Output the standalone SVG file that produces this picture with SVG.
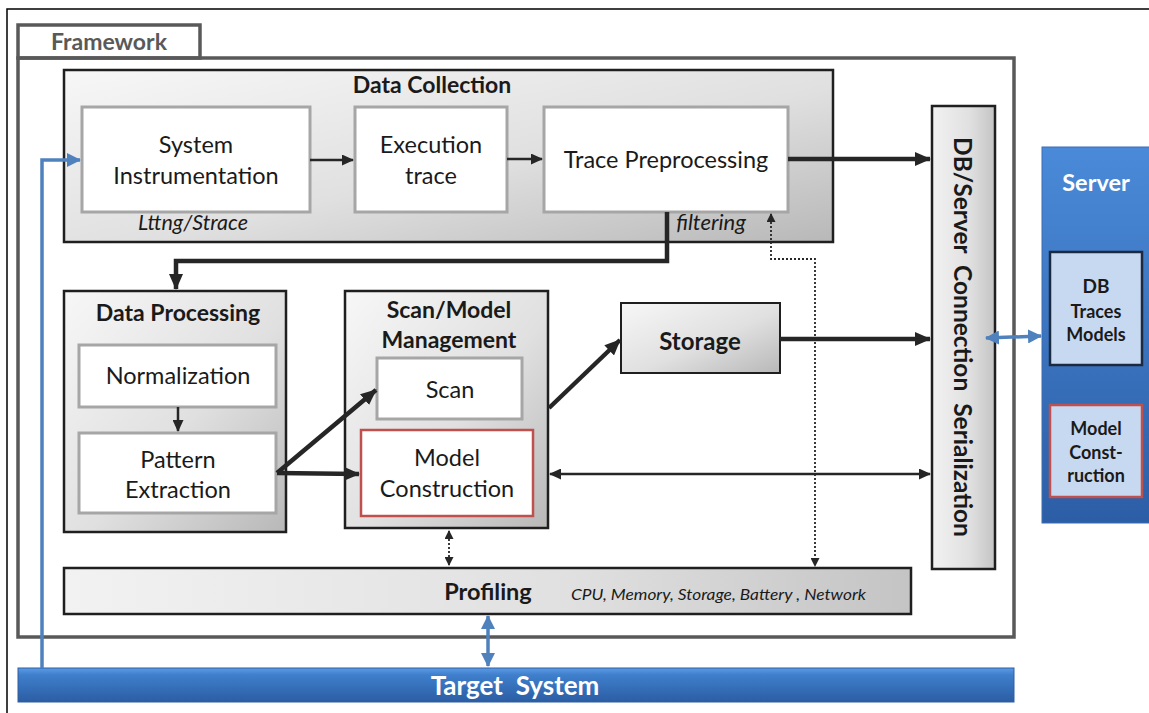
<svg xmlns="http://www.w3.org/2000/svg" width="1149" height="713" viewBox="0 0 1149 713">
<style>
.t{font-family:Lato,"Open Sans","Liberation Sans",sans-serif;fill:#1a1a1a}
.r{font-size:23.5px}
.h{font-size:23px;font-weight:bold}
.b{font-weight:bold}
.i{font-style:italic}
.box{fill:#fff;stroke:#a6a6a6;stroke-width:3}
.grp{fill:url(#g);stroke:#1f1f1f;stroke-width:2.5}
.red{fill:#fff;stroke:#c0504d;stroke-width:2.5}
.thick{stroke:#262626;stroke-width:4.5;fill:none}
.thin{stroke:#262626;stroke-width:2.5;fill:none}
.dot{stroke:#262626;stroke-width:1.8;fill:none;stroke-dasharray:2 2}
.blue{stroke:#4f81bd;stroke-width:3.5;fill:none}
</style>
<defs>
<linearGradient id="g" x1="0" y1="0" x2="1" y2="1">
<stop offset="0" stop-color="#f7f7f7"/><stop offset="0.55" stop-color="#e0e0e0"/><stop offset="1" stop-color="#b8b8b8"/>
</linearGradient>
<linearGradient id="gv" x1="0" y1="0" x2="1" y2="0">
<stop offset="0" stop-color="#f2f2f2"/><stop offset="0.6" stop-color="#e0e0e0"/><stop offset="1" stop-color="#c4c4c4"/>
</linearGradient>
<linearGradient id="bl" x1="0" y1="0" x2="0" y2="1">
<stop offset="0" stop-color="#4a8ad8"/><stop offset="1" stop-color="#2c5ea6"/>
</linearGradient>
<linearGradient id="bl2" x1="0" y1="0" x2="0" y2="1">
<stop offset="0" stop-color="#5b9be6"/><stop offset="0.2" stop-color="#3f7fcc"/><stop offset="1" stop-color="#2b5da3"/>
</linearGradient>
<marker id="ah" markerUnits="userSpaceOnUse" markerWidth="16" markerHeight="14" refX="15" refY="7" orient="auto-start-reverse"><path d="M0,0 L16,7 L0,14 z" fill="#262626"/></marker>
<marker id="as" markerUnits="userSpaceOnUse" markerWidth="12" markerHeight="11" refX="11" refY="5.5" orient="auto-start-reverse"><path d="M0,0 L12,5.5 L0,11 z" fill="#262626"/></marker>
<marker id="ad" markerUnits="userSpaceOnUse" markerWidth="9" markerHeight="9" refX="8" refY="4.5" orient="auto-start-reverse"><path d="M0,0 L9,4.5 L0,9 z" fill="#262626"/></marker>
<marker id="ab" markerUnits="userSpaceOnUse" markerWidth="14" markerHeight="14" refX="13" refY="7" orient="auto-start-reverse"><path d="M0,0 L14,7 L0,14 z" fill="#4f81bd"/></marker>
</defs>
<rect x="7" y="9" width="1150" height="710" fill="#fff" stroke="#000" stroke-width="1.5"/>

<g id="framework">
<rect x="18" y="25" width="182" height="33" fill="#fff" stroke="#595959" stroke-width="3.5"/>
<text class="t b" x="109" y="50" font-size="23" text-anchor="middle" style="fill:#595959">Framework</text>
<rect x="18" y="58" width="996" height="579" fill="none" stroke="#595959" stroke-width="3.5"/>
</g>

<g id="data-collection">
<rect class="grp" x="64" y="70" width="769" height="172"/>
<text class="t h" x="432" y="93" text-anchor="middle">Data Collection</text>
<text class="t i" x="193" y="230" font-size="21.5" text-anchor="middle">Lttng/Strace</text>
<text class="t i" x="711" y="230" font-size="22" text-anchor="middle">filtering</text>
</g>
<g id="system-instrumentation">
<rect class="box" x="82" y="107" width="228" height="105"/>
<text class="t r" x="196" y="153" text-anchor="middle">System</text>
<text class="t r" x="196" y="184" text-anchor="middle">Instrumentation</text>
</g>
<g id="execution-trace">
<rect class="box" x="355" y="107" width="152" height="105"/>
<text class="t r" x="431" y="153" text-anchor="middle">Execution</text>
<text class="t r" x="431" y="184" text-anchor="middle">trace</text>
</g>
<g id="trace-preprocessing">
<rect class="box" x="544" y="107" width="244" height="105"/>
<text class="t r" x="666" y="168" text-anchor="middle">Trace Preprocessing</text>
</g>

<g id="data-processing">
<rect class="grp" x="64" y="291" width="222" height="241"/>
<text class="t h" x="178" y="321" text-anchor="middle">Data Processing</text>
</g>
<g id="normalization">
<rect class="box" x="79" y="345" width="197" height="62"/>
<text class="t r" x="178" y="384" text-anchor="middle">Normalization</text>
</g>
<g id="pattern-extraction">
<rect class="box" x="79" y="433" width="197" height="80"/>
<text class="t r" x="178" y="468" text-anchor="middle">Pattern</text>
<text class="t r" x="178" y="498" text-anchor="middle">Extraction</text>
</g>

<g id="scan-model-management">
<rect class="grp" x="345" y="291" width="203" height="237"/>
<text class="t h" x="449" y="318" text-anchor="middle">Scan/Model</text>
<text class="t h" x="449" y="348" text-anchor="middle">Management</text>
</g>
<g id="scan">
<rect class="box" x="377" y="358" width="145" height="61"/>
<text class="t r" x="450" y="398" text-anchor="middle">Scan</text>
</g>
<g id="model-construction">
<rect class="red" x="361" y="430" width="172" height="86"/>
<text class="t r" x="447" y="466" text-anchor="middle">Model</text>
<text class="t r" x="447" y="497" text-anchor="middle">Construction</text>
</g>

<g id="storage">
<rect class="grp" x="621" y="303" width="159" height="70" style="stroke-width:2"/>
<text class="t b" x="700" y="350" font-size="24" text-anchor="middle">Storage</text>
</g>

<g id="db-server-connection">
<rect x="932" y="106" width="63" height="463" fill="url(#gv)" stroke="#1f1f1f" stroke-width="2.5"/>
<text class="t b" transform="translate(963,337) rotate(90)" font-size="24.5" text-anchor="middle" dominant-baseline="central" xml:space="preserve">DB/Server  Connection  Serialization</text>
</g>

<g id="profiling">
<rect x="64" y="568" width="847" height="46" fill="url(#gv)" stroke="#1f1f1f" stroke-width="2.5"/>
<text class="t b" x="488" y="600" font-size="23.5" text-anchor="middle">Profiling</text>
<text class="t i" x="571" y="600" font-size="16" textLength="295" lengthAdjust="spacingAndGlyphs">CPU, Memory, Storage, Battery , Network</text>
</g>

<g id="server">
<rect x="1042" y="147" width="110" height="376" fill="url(#bl)" stroke="#3a6db3" stroke-width="1"/>
<text class="t b" x="1096" y="191" font-size="23.5" text-anchor="middle" style="fill:#fff">Server</text>
</g>
<g id="db-traces-models">
<rect x="1050" y="252" width="92" height="113" fill="#c6d9f1" stroke="#1c2a40" stroke-width="2.5"/>
<text class="t b" x="1096" y="293" font-size="19" text-anchor="middle">DB</text>
<text class="t b" x="1096" y="318" font-size="18" text-anchor="middle">Traces</text>
<text class="t b" x="1096" y="341" font-size="18" text-anchor="middle">Models</text>
</g>
<g id="server-model-construction">
<rect x="1050" y="405" width="92" height="92" fill="#c6d9f1" stroke="#c0504d" stroke-width="2.5"/>
<text class="t b" x="1096" y="435" font-size="18" text-anchor="middle">Model</text>
<text class="t b" x="1096" y="459" font-size="18" text-anchor="middle">Const-</text>
<text class="t b" x="1096" y="482" font-size="18" text-anchor="middle">ruction</text>
</g>

<g id="target-system">
<rect x="18" y="668" width="996" height="34" fill="url(#bl2)" stroke="#2f5f9f" stroke-width="1"/>
<text class="t b" x="515" y="695" font-size="26" text-anchor="middle" style="fill:#fff" xml:space="preserve">Target  System</text>
</g>

<g id="connectors">
<path class="thin" d="M310,160 L353,160" marker-end="url(#as)"/>
<path class="thin" d="M507,159 L542,159" marker-end="url(#as)"/>
<path class="thick" d="M788,159 L930,159" marker-end="url(#ah)"/>
<path class="thick" d="M667,212 L667,261 L176,261 L176,289" marker-end="url(#ah)"/>
<path class="thin" d="M178,407 L178,431" marker-end="url(#as)"/>
<path class="thick" d="M277,473 L376,390" marker-end="url(#ah)"/>
<path class="thick" d="M277,473 L359,474" marker-end="url(#ah)"/>
<path class="thick" d="M549,408 L620,340" marker-end="url(#ah)"/>
<path class="thick" d="M780,339 L930,339" marker-end="url(#ah)"/>
<path class="thin" d="M550,474 L930,474" marker-start="url(#as)" marker-end="url(#as)"/>
<path class="dot" d="M449,531 L449,565" marker-start="url(#ad)" marker-end="url(#ad)"/>
<path class="dot" d="M771,214 L771,259 L815,259 L815,566" marker-start="url(#ad)" marker-end="url(#ad)"/>
<path class="blue" d="M42,668 L42,160 L80,160" marker-end="url(#ab)"/>
<path class="blue" d="M986,338 L1041,336" marker-start="url(#ab)" marker-end="url(#ab)"/>
<path class="blue" d="M488,616 L488,666" marker-start="url(#ab)" marker-end="url(#ab)"/>
</g>
</svg>
